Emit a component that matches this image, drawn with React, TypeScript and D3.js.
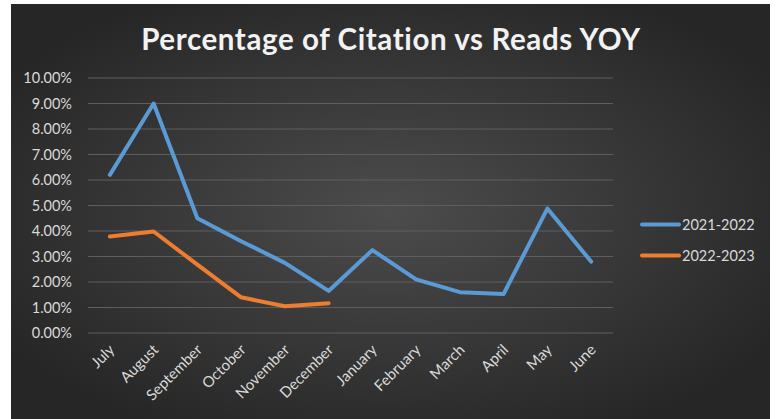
import { useEffect, useRef } from "react";
import * as d3 from "d3";

const months = [
  "July", "August", "September", "October", "November", "December",
  "January", "February", "March", "April", "May", "June",
];
const series2122 = [6.2, 9.0, 4.5, 3.6, 2.75, 1.65, 3.25, 2.1, 1.6, 1.53, 4.88, 2.8];
const series2223 = [3.78, 3.98, 2.68, 1.4, 1.05, 1.17];
const seriesNames = ["2021-2022", "2022-2023"];
const seriesColors = ["#5b9bd5", "#ed7d31"];
const yTicks = [0, 1, 2, 3, 4, 5, 6, 7, 8, 9, 10];

export default function App() {
  const ref = useRef<SVGSVGElement | null>(null);

  useEffect(() => {
    const svg = d3.select(ref.current);
    svg.selectAll("*").remove();

    const height = 419;
    const plot = { left: 88, right: 613, top: 78, bottom: 333 };
    const font = "Lato, 'Open Sans', sans-serif";
    const labelColor = "#d9d9d9";

    // background gradient
    const defs = svg.append("defs");
    const grad = defs
      .append("radialGradient")
      .attr("id", "bg")
      .attr("cx", "50%")
      .attr("cy", "50%")
      .attr("r", "60%");
    grad.append("stop").attr("offset", "0%").attr("stop-color", "#4c4c4c");
    grad.append("stop").attr("offset", "100%").attr("stop-color", "#262626");

    svg
      .append("rect")
      .attr("x", 11)
      .attr("y", 4)
      .attr("width", 759)
      .attr("height", height - 4)
      .attr("fill", "url(#bg)");

    // title
    svg
      .append("text")
      .attr("x", 391)
      .attr("y", 50)
      .attr("text-anchor", "middle")
      .attr("fill", "#f2f2f2")
      .attr("font-family", font)
      .attr("font-weight", "bold")
      .attr("font-size", 29.5)
      .attr("letter-spacing", 0.6)
      .text("Percentage of Citation vs Reads YOY");

    const x = d3.scaleBand().domain(months).range([plot.left, plot.right]);
    const y = d3.scaleLinear().domain([0, 10]).range([plot.bottom, plot.top]);

    // gridlines
    svg
      .append("g")
      .selectAll("line")
      .data(yTicks)
      .enter()
      .append("line")
      .attr("x1", plot.left)
      .attr("x2", plot.right)
      .attr("y1", (d) => y(d))
      .attr("y2", (d) => y(d))
      .attr("stroke", "#5e5e5e")
      .attr("stroke-width", 1);

    // y labels
    svg
      .append("g")
      .selectAll("text")
      .data(yTicks)
      .enter()
      .append("text")
      .attr("x", 72)
      .attr("y", (d) => y(d) + 5)
      .attr("text-anchor", "end")
      .attr("fill", labelColor)
      .attr("font-family", font)
      .attr("font-size", 14.5)
      .text((d) => d.toFixed(2) + "%");

    // x labels
    const cx = (m: string) => (x(m) as number) + x.bandwidth() / 2;
    svg
      .append("g")
      .selectAll("text")
      .data(months)
      .enter()
      .append("text")
      .attr("transform", (d) => `translate(${cx(d) + 2},${plot.bottom + 14}) rotate(-45)`)
      .attr("text-anchor", "end")
      .attr("dy", "0.35em")
      .attr("fill", labelColor)
      .attr("font-family", font)
      .attr("font-size", 15)
      .text((d) => d);

    // lines
    const line = d3
      .line<number>()
      .x((_, i) => cx(months[i]))
      .y((d) => y(d));

    [series2122, series2223].forEach((s, i) => {
      svg
        .append("path")
        .datum(s)
        .attr("d", line)
        .attr("fill", "none")
        .attr("stroke", seriesColors[i])
        .attr("stroke-width", 4)
        .attr("stroke-linejoin", "round")
        .attr("stroke-linecap", "round");
    });

    // legend
    const legend = svg
      .append("g")
      .selectAll("g")
      .data(seriesNames)
      .enter()
      .append("g")
      .attr("transform", (_, i) => `translate(640,${224.5 + i * 31})`);
    legend
      .append("line")
      .attr("x1", 2)
      .attr("x2", 39)
      .attr("stroke", (_, i) => seriesColors[i])
      .attr("stroke-width", 4)
      .attr("stroke-linecap", "round");
    legend
      .append("text")
      .attr("x", 42)
      .attr("dy", "0.36em")
      .attr("fill", labelColor)
      .attr("font-family", font)
      .attr("font-size", 14.5)
      .text((d) => d);
  }, []);

  return (
    <svg
      ref={ref}
      width={776}
      height={419}
      style={{ position: "absolute", left: 0, top: 0, display: "block", background: "#fff" }}
    />
  );
}
